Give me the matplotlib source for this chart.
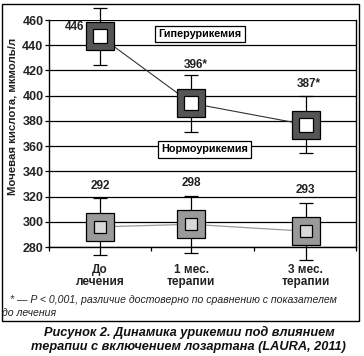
import matplotlib
matplotlib.use("Agg")
import matplotlib.pyplot as plt
from matplotlib.patches import Rectangle

plt.rcParams['font.family'] = ['Liberation Sans', 'DejaVu Sans']

categories = ["До\nлечения", "1 мес.\nтерапии", "3 мес.\nтерапии"]
x_pos = [0.5, 1.39, 2.51]
hyper_mean = [447, 394, 377]
hyper_err = [22.5, 22.5, 22.5]
hyper_labels = ["446", "396*", "387*"]
normo_mean = [296, 298, 292.5]
normo_err = [22.5, 22.5, 22.5]
normo_labels = ["292", "298", "293"]
yticks = [280, 300, 320, 340, 360, 380, 400, 420, 440, 460]

fig = plt.figure(figsize=(3.64, 3.56), dpi=100)
ax = fig.add_axes([49/364, 1-247/356, (356-49)/364, (247-20)/356])
ax.set_xlim(0, 3)
ax.set_ylim(280, 460)

for y in yticks:
    ax.axhline(y, color='black', lw=0.9, zorder=1)

# lines
ax.plot(x_pos, hyper_mean, color='#333333', lw=0.8, zorder=2)
ax.plot(x_pos, normo_mean, color='#999999', lw=0.9, zorder=2)

# error bars
for mean, err in [(hyper_mean, hyper_err), (normo_mean, normo_err)]:
    eb = ax.errorbar(x_pos, mean, yerr=err, fmt='none', ecolor='black',
                     elinewidth=0.9, capsize=4.7, capthick=0.9, zorder=3)
    for art in list(eb.lines[1]) + list(eb.lines[2]):
        art.set_clip_on(False)

# markers
ax.plot(x_pos, hyper_mean, ls='none', marker='s', ms=20.5, mfc='#555555',
        mec='black', mew=0.9, zorder=4, clip_on=False)
ax.plot(x_pos, hyper_mean, ls='none', marker='s', ms=10, mfc='white',
        mec='black', mew=0.9, zorder=5, clip_on=False)
ax.plot(x_pos, normo_mean, ls='none', marker='s', ms=20.5, mfc='#9a9a9a',
        mec='black', mew=0.9, zorder=4, clip_on=False)
ax.plot(x_pos, normo_mean, ls='none', marker='s', ms=8.8, mfc='#d8d8d8',
        mec='black', mew=0.9, zorder=5, clip_on=False)

# value labels
lab_kw = dict(fontsize=8.5, fontweight='bold', color='#222222', ha='center', va='center')
ax.text(x_pos[0] - 0.25, hyper_mean[0] + 7.5, hyper_labels[0], **lab_kw)
ax.text(x_pos[1] + 0.04, hyper_mean[1] + hyper_err[1] + 7.5, hyper_labels[1], **lab_kw)
ax.text(x_pos[2] + 0.03, hyper_mean[2] + hyper_err[2] + 10, hyper_labels[2], **lab_kw)
for xp, m, e, l, dy in zip(x_pos, normo_mean, normo_err, normo_labels, [10, 10, 10]):
    ax.text(xp, m + e + dy, l, **lab_kw)

# group boxes
box_kw = dict(fontsize=7.8, fontweight='bold', ha='center', va='center',
              bbox=dict(boxstyle='square,pad=0.3', fc='white', ec='black', lw=0.9))
ax.text(1.475, 449, "Гиперурикемия", **box_kw)
ax.text(1.52, 357.5, "Нормоурикемия", **box_kw)

ax.set_xticks([0, 1, 2, 3])
ax.set_xticklabels([])
ax.tick_params(axis='x', length=3, width=0.9, direction='out')
ax.set_xticks(x_pos, minor=True)
ax.set_xticklabels(categories, minor=True, fontsize=8.5, fontweight='bold', color='#222222',
                   linespacing=1.05)
ax.tick_params(axis='x', which='minor', length=0, pad=12)

ax.set_yticks(yticks)
ax.set_yticklabels([str(v) for v in yticks], fontsize=9, fontweight='bold', color='#222222')
ax.tick_params(axis='y', length=3, width=0.9, pad=1)

for s in ['left', 'bottom', 'right']:
    ax.spines[s].set_linewidth(1.0)
ax.spines['top'].set_visible(False)

ax.set_ylabel("Мочевая кислота, мкмоль/л", fontsize=8.2, fontweight='bold',
              color='#222222', labelpad=3)
ax.yaxis.set_label_coords(-0.104, 0.575)

# footnote
fig.text(10/364, 1-300/356, "* — P < 0,001, различие достоверно по сравнению с показателем",
         fontsize=7.6, fontstyle='italic', va='center', ha='left', color='#222222')
fig.text(2/364, 1-313/356, "до лечения",
         fontsize=7.6, fontstyle='italic', va='center', ha='left', color='#222222')

# frame
fig.add_artist(Rectangle((1.5/364, 1-321/356), (359-1.5)/364, (321-4)/356,
                         transform=fig.transFigure, fill=False, ec='black', lw=1.0))

# title
tkw = dict(fontsize=9.2, fontweight='bold', fontstyle='italic', ha='center', va='center',
           color='#111111')
fig.text(0.52, 1-332/356, "Рисунок 2. Динамика урикемии под влиянием", **tkw)
fig.text(0.518, 1-347/356, "терапии с включением лозартана (LAURA, 2011)", **tkw)

fig.savefig("out.png", dpi=100)
